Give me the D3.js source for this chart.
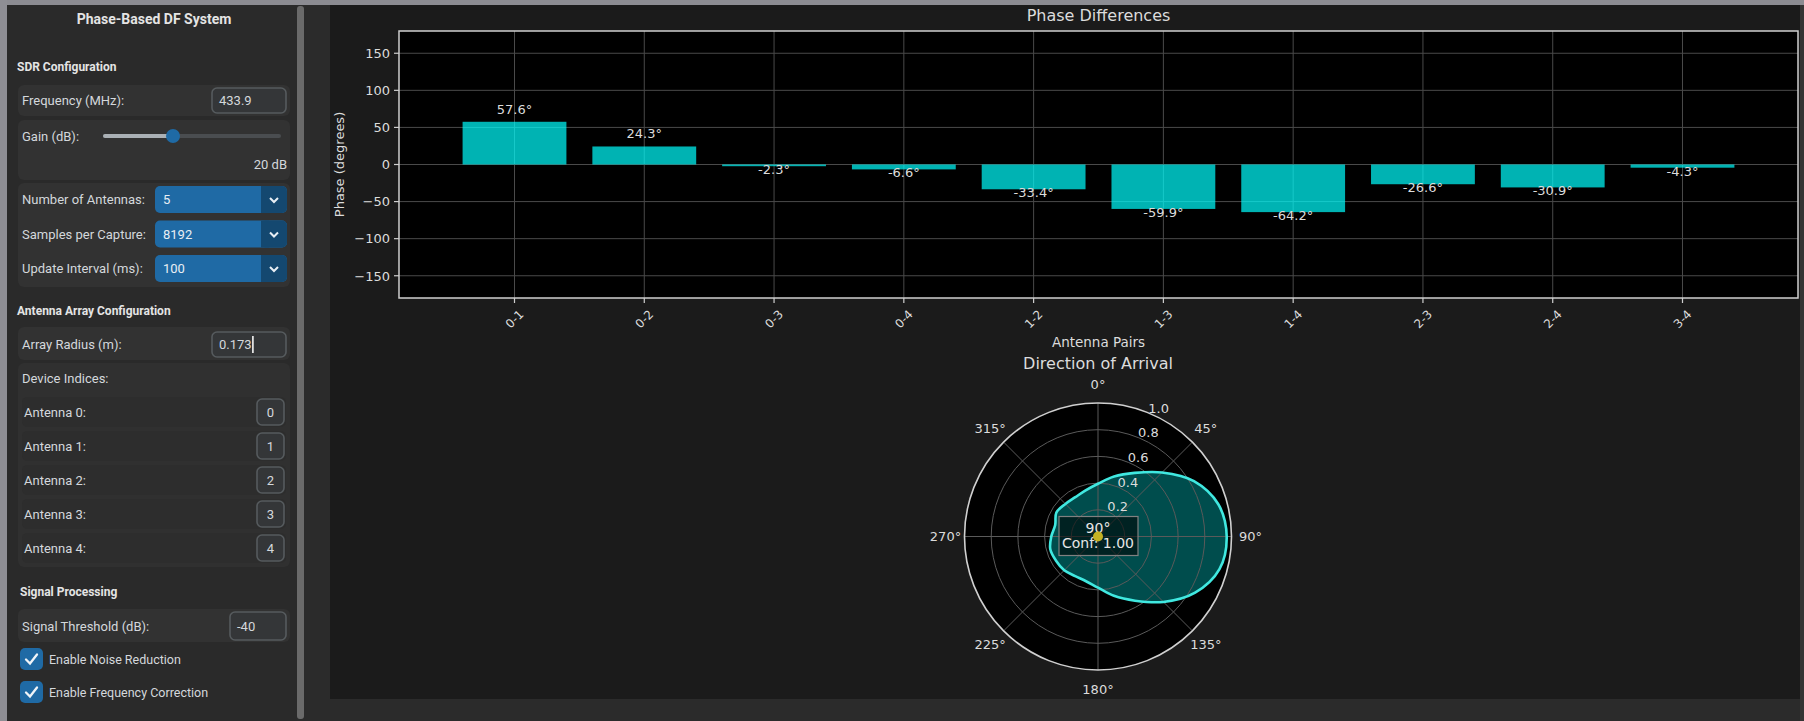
<!DOCTYPE html>
<html>
<head>
<meta charset="utf-8">
<script src="https://cdn.jsdelivr.net/npm/d3@7"></script>
<style>
  html, body { margin: 0; padding: 0; background: #2b2b2b; overflow: hidden; }
  svg { display: block; }
</style>
</head>
<body>
<div id="chart"></div>
<script>
// Phase differences per antenna pair
const pairs = ["0-1", "0-2", "0-3", "0-4", "1-2", "1-3", "1-4", "2-3", "2-4", "3-4"];
const phaseDiff = [57.6, 24.3, -2.3, -6.6, -33.4, -59.9, -64.2, -26.6, -30.9, -4.3];
const phaseTicks = [-150, -100, -50, 0, 50, 100, 150];

// Direction of arrival pattern
const patternAngles = [0, 15, 30, 45, 60, 75, 90, 105, 120, 135, 150, 165,
  180, 195, 210, 225, 240, 255, 270, 285, 300, 315, 330, 345];
const patternRadius = [0.395, 0.465, 0.55, 0.678, 0.83, 0.933, 0.964, 0.942, 0.84, 0.693, 0.555, 0.46,
  0.383, 0.347, 0.342, 0.358, 0.363, 0.37, 0.35, 0.332, 0.36, 0.345, 0.34, 0.358];
const thetaTicks = [0, 45, 90, 135, 180, 225, 270, 315];
const radiusTicks = [0.2, 0.4, 0.6, 0.8, 1.0];
const doaAngle = 90;
const doaConfidence = 1.0;

// Sidebar contents
const dropdownRows = [
  { label: "Number of Antennas:", value: "5" },
  { label: "Samples per Capture:", value: "8192" },
  { label: "Update Interval (ms):", value: "100" },
];
const antennaIndices = [0, 1, 2, 3, 4];
const checkboxes = ["Enable Noise Reduction", "Enable Frequency Correction"];

const W = 1804, H = 721;
const mplFont = "'DejaVu Sans', sans-serif";
const uiFont = "Roboto, 'Noto Sans', sans-serif";
const txt = "#dcdcdc";
const uiTxt = "#d4d8dc";

const svg = d3.select("#chart").append("svg").attr("width", W).attr("height", H);

// ---------- window chrome ----------
svg.append("rect").attr("width", W).attr("height", H).attr("fill", "#2b2b2b");
svg.append("rect").attr("width", W).attr("height", 5).attr("fill", "#8c8c92");
svg.append("rect").attr("x", 0).attr("y", 0).attr("width", 7).attr("height", H).attr("fill", "#8e8e94");
svg.append("rect").attr("x", 7).attr("y", 5).attr("width", 290).attr("height", H - 5).attr("fill", "#2a2a2a");
svg.append("rect").attr("x", 297).attr("y", 6).attr("width", 7).attr("height", H - 8).attr("rx", 3).attr("fill", "#6a6a6a");
svg.append("rect").attr("x", 1800).attr("y", 5).attr("width", 4).attr("height", H).attr("fill", "#343434");

// ---------- sidebar ----------
const side = svg.append("g");

function label(x, y, text, opts = {}) {
  return side.append("text")
    .attr("x", x).attr("y", y)
    .attr("text-anchor", opts.anchor || "start")
    .style("font-family", uiFont)
    .style("font-size", (opts.size || 13) + "px")
    .style("font-weight", opts.bold ? "bold" : "normal")
    .style("fill", opts.color || uiTxt)
    .text(text);
}
function rowBg(x, y, w, h, fill) {
  side.append("rect").attr("x", x).attr("y", y).attr("width", w).attr("height", h)
    .attr("rx", 6).attr("fill", fill || "#323232");
}
function entry(x, y, w, h, text, center) {
  side.append("rect").attr("x", x).attr("y", y).attr("width", w).attr("height", h)
    .attr("rx", 5).attr("fill", "#343638").attr("stroke", "#565b5e").attr("stroke-width", 1.6);
  return label(center ? x + w / 2 : x + 7, y + h / 2 + 4.5, text, { anchor: center ? "middle" : "start" });
}

label(154, 24, "Phase-Based DF System", { anchor: "middle", size: 14, bold: true, color: "#e4e4e4" });
label(17, 71, "SDR Configuration", { size: 12, bold: true, color: "#e4e4e4" });

rowBg(18, 85, 272, 31);
label(22, 105, "Frequency (MHz):");
entry(212, 88, 74, 25, "433.9");

rowBg(18, 120, 272, 60);
label(22, 141, "Gain (dB):");
side.append("rect").attr("x", 103).attr("y", 134).attr("width", 178).attr("height", 4).attr("rx", 2).attr("fill", "#4a4d50");
side.append("rect").attr("x", 103).attr("y", 134).attr("width", 70).attr("height", 4).attr("rx", 2).attr("fill", "#aab0b5");
side.append("circle").attr("cx", 173).attr("cy", 136).attr("r", 7).attr("fill", "#1f6aa5");
label(287, 169, "20 dB", { anchor: "end" });

rowBg(18, 183, 272, 104);
dropdownRows.forEach((d, i) => {
  const y = 186 + i * 34.5;
  label(22, y + 18, d.label);
  side.append("rect").attr("x", 155).attr("y", y).attr("width", 132).attr("height", 27).attr("rx", 5).attr("fill", "#1f6aa5");
  side.append("rect").attr("x", 261).attr("y", y).attr("width", 26).attr("height", 27).attr("rx", 5).attr("fill", "#144870");
  side.append("rect").attr("x", 261).attr("y", y).attr("width", 8).attr("height", 27).attr("fill", "#144870");
  label(163, y + 18, d.value, { color: "#e8eef4" });
  side.append("path").attr("d", `M${270} ${y + 12} L${274} ${y + 16} L${278} ${y + 12}`)
    .attr("fill", "none").attr("stroke", "#e8eef4").attr("stroke-width", 2);
});

label(17, 315, "Antenna Array Configuration", { size: 12, bold: true, color: "#e4e4e4" });
rowBg(18, 327, 272, 33);
label(22, 349, "Array Radius (m):");
const radTxt = entry(212, 332, 74, 25, "0.173");
const radEnd = 219 + radTxt.node().getComputedTextLength();
side.append("rect").attr("x", radEnd + 0.5).attr("y", 336).attr("width", 1.5).attr("height", 17).attr("fill", "#ffffff");

rowBg(18, 363, 272, 204, "#303030");
label(22, 383, "Device Indices:");
antennaIndices.forEach((a, i) => {
  const cy = 412 + i * 34;
  side.append("rect").attr("x", 22).attr("y", cy - 15).attr("width", 264).attr("height", 30).attr("rx", 5).attr("fill", "#2d2d2d");
  label(24, cy + 4.5, `Antenna ${a}:`);
  entry(257, cy - 13, 27, 26, String(a), true);
});

label(20, 596, "Signal Processing", { size: 12, bold: true, color: "#e4e4e4" });
rowBg(18, 609, 272, 33);
label(22, 631, "Signal Threshold (dB):");
entry(230, 612, 56, 28, "-40");

checkboxes.forEach((c, i) => {
  const y = 648 + i * 33;
  side.append("rect").attr("x", 20).attr("y", y).attr("width", 23).attr("height", 22).attr("rx", 5).attr("fill", "#1f6aa5");
  side.append("path").attr("d", `M${26} ${y + 11.5} L${30} ${y + 15.5} L${37} ${y + 6.5}`)
    .attr("fill", "none").attr("stroke", "#f0f4f8").attr("stroke-width", 2.3).attr("stroke-linecap", "round");
  label(49, y + 15.5, c, { size: 12.5 });
});

// ---------- matplotlib figure ----------
svg.append("rect").attr("x", 330).attr("y", 5).attr("width", 1470).attr("height", 694).attr("fill", "#1b1b1b");

const plot = { left: 399, right: 1798, top: 31, bottom: 298 };
const x = d3.scaleLinear().domain([-0.89, 9.89]).range([plot.left, plot.right]);
const y = d3.scaleLinear().domain([-180, 180]).range([plot.bottom, plot.top]);
const barW = x(0.8) - x(0);

const bar = svg.append("g");
bar.append("rect").attr("x", plot.left).attr("y", plot.top)
  .attr("width", plot.right - plot.left).attr("height", plot.bottom - plot.top).attr("fill", "#000");

// grid
bar.selectAll(".gy").data(phaseTicks).enter().append("line")
  .attr("x1", plot.left).attr("x2", plot.right).attr("y1", d => y(d)).attr("y2", d => y(d))
  .attr("stroke", "#4a4a4a").attr("stroke-width", 1);
bar.selectAll(".gx").data(pairs).enter().append("line")
  .attr("x1", (d, i) => x(i)).attr("x2", (d, i) => x(i)).attr("y1", plot.top).attr("y2", plot.bottom)
  .attr("stroke", "#4a4a4a").attr("stroke-width", 1);

// bars
bar.selectAll(".bar").data(phaseDiff).enter().append("rect")
  .attr("x", (d, i) => x(i) - barW / 2)
  .attr("y", d => y(Math.max(0, d)))
  .attr("width", barW)
  .attr("height", d => Math.abs(y(d) - y(0)))
  .attr("fill", "#00ffff").attr("fill-opacity", 0.7);

// value labels
bar.selectAll(".val").data(phaseDiff).enter().append("text")
  .attr("x", (d, i) => x(i))
  .attr("y", d => d >= 0 ? y(d) - 8 : y(d) + 8)
  .attr("text-anchor", "middle")
  .style("font-family", mplFont).style("font-size", "13px").style("fill", txt)
  .text(d => d.toFixed(1) + "°");

// frame
bar.append("rect").attr("x", plot.left).attr("y", plot.top)
  .attr("width", plot.right - plot.left).attr("height", plot.bottom - plot.top)
  .attr("fill", "none").attr("stroke", "#cfcfcf").attr("stroke-width", 1.5);

// y ticks
bar.selectAll(".ty").data(phaseTicks).enter().append("line")
  .attr("x1", plot.left - 5).attr("x2", plot.left).attr("y1", d => y(d)).attr("y2", d => y(d))
  .attr("stroke", "#cfcfcf").attr("stroke-width", 1.2);
bar.selectAll(".tyl").data(phaseTicks).enter().append("text")
  .attr("x", plot.left - 9).attr("y", d => y(d) + 4.8)
  .attr("text-anchor", "end")
  .style("font-family", mplFont).style("font-size", "13px").style("fill", txt)
  .text(d => String(d).replace("-", "\u2212"));

// x ticks
bar.selectAll(".tx").data(pairs).enter().append("line")
  .attr("x1", (d, i) => x(i)).attr("x2", (d, i) => x(i)).attr("y1", plot.bottom).attr("y2", plot.bottom + 5)
  .attr("stroke", "#cfcfcf").attr("stroke-width", 1.2);
bar.selectAll(".txl").data(pairs).enter().append("text")
  .attr("transform", (d, i) => `translate(${x(i)},${plot.bottom + 21}) rotate(-45)`)
  .attr("text-anchor", "middle").attr("dy", "0.35em")
  .style("font-family", mplFont).style("font-size", "12px").style("fill", txt)
  .text(d => d);

bar.append("text").attr("x", (plot.left + plot.right) / 2).attr("y", 21)
  .attr("text-anchor", "middle")
  .style("font-family", mplFont).style("font-size", "16px").style("fill", txt)
  .text("Phase Differences");
bar.append("text").attr("x", (plot.left + plot.right) / 2).attr("y", 347)
  .attr("text-anchor", "middle")
  .style("font-family", mplFont).style("font-size", "13.5px").style("fill", txt)
  .text("Antenna Pairs");
bar.append("text").attr("transform", `translate(344,${(plot.top + plot.bottom) / 2}) rotate(-90)`)
  .attr("text-anchor", "middle")
  .style("font-family", mplFont).style("font-size", "13px").style("fill", txt)
  .text("Phase (degrees)");

// ---------- polar plot ----------
const cx = 1098, cy = 536.5, R = 133.5;
const r = d3.scaleLinear().domain([0, 1]).range([0, R]);
const rad = deg => deg * Math.PI / 180;
const polar = svg.append("g").attr("transform", `translate(${cx},${cy})`);

polar.append("circle").attr("r", R).attr("fill", "#000");

const patternData = patternAngles.map((a, i) => [rad(a), r(patternRadius[i])]);
const radial = d3.lineRadial().curve(d3.curveCatmullRomClosed.alpha(0.5));
polar.append("path").attr("d", radial(patternData))
  .attr("fill", "#00ffff").attr("fill-opacity", 0.3).attr("stroke", "none");

polar.selectAll(".ring").data(radiusTicks.slice(0, -1)).enter().append("circle")
  .attr("r", d => r(d)).attr("fill", "none").attr("stroke", "#5a5a5a").attr("stroke-width", 1);
polar.selectAll(".spoke").data(thetaTicks).enter().append("line")
  .attr("x1", 0).attr("y1", 0)
  .attr("x2", d => R * Math.sin(rad(d))).attr("y2", d => -R * Math.cos(rad(d)))
  .attr("stroke", "#5a5a5a").attr("stroke-width", 1);

polar.append("path").attr("d", radial(patternData))
  .attr("fill", "none").attr("stroke", "#40e8e0").attr("stroke-width", 2.6);

polar.append("circle").attr("r", R).attr("fill", "none").attr("stroke", "#d0d0d0").attr("stroke-width", 1.6);

polar.selectAll(".rl").data(radiusTicks).enter().append("text")
  .attr("x", d => r(d) * Math.sin(rad(22.5)) + 9.5)
  .attr("y", d => -r(d) * Math.cos(rad(22.5)) - 5)
  .attr("text-anchor", "middle").attr("dy", "0.35em")
  .style("font-family", mplFont).style("font-size", "13px").style("fill", txt)
  .text(d => d.toFixed(1));

polar.selectAll(".tl").data(thetaTicks).enter().append("text")
  .attr("x", d => (R + 19) * Math.sin(rad(d)))
  .attr("y", d => -(R + 19) * Math.cos(rad(d)))
  .attr("text-anchor", "middle").attr("dy", "0.35em")
  .style("font-family", mplFont).style("font-size", "13px").style("fill", txt)
  .text(d => d + "°");

// annotation box
polar.append("rect").attr("x", -39).attr("y", -20).attr("width", 79).attr("height", 39)
  .attr("fill", "#000").attr("fill-opacity", 0.55).attr("stroke", "#808080").attr("stroke-width", 1.2);
polar.append("text").attr("x", 0).attr("y", -4)
  .attr("text-anchor", "middle")
  .style("font-family", mplFont).style("font-size", "14px").style("fill", "#e6e6e6")
  .text(doaAngle + "°");
polar.append("text").attr("x", 0).attr("y", 11)
  .attr("text-anchor", "middle")
  .style("font-family", mplFont).style("font-size", "14px").style("fill", "#e6e6e6")
  .text("Conf: " + doaConfidence.toFixed(2));
polar.append("circle").attr("r", 5).attr("fill", "#c4b224");

svg.append("text").attr("x", cx).attr("y", 369)
  .attr("text-anchor", "middle")
  .style("font-family", mplFont).style("font-size", "16px").style("fill", txt)
  .text("Direction of Arrival");
</script>
</body>
</html>
